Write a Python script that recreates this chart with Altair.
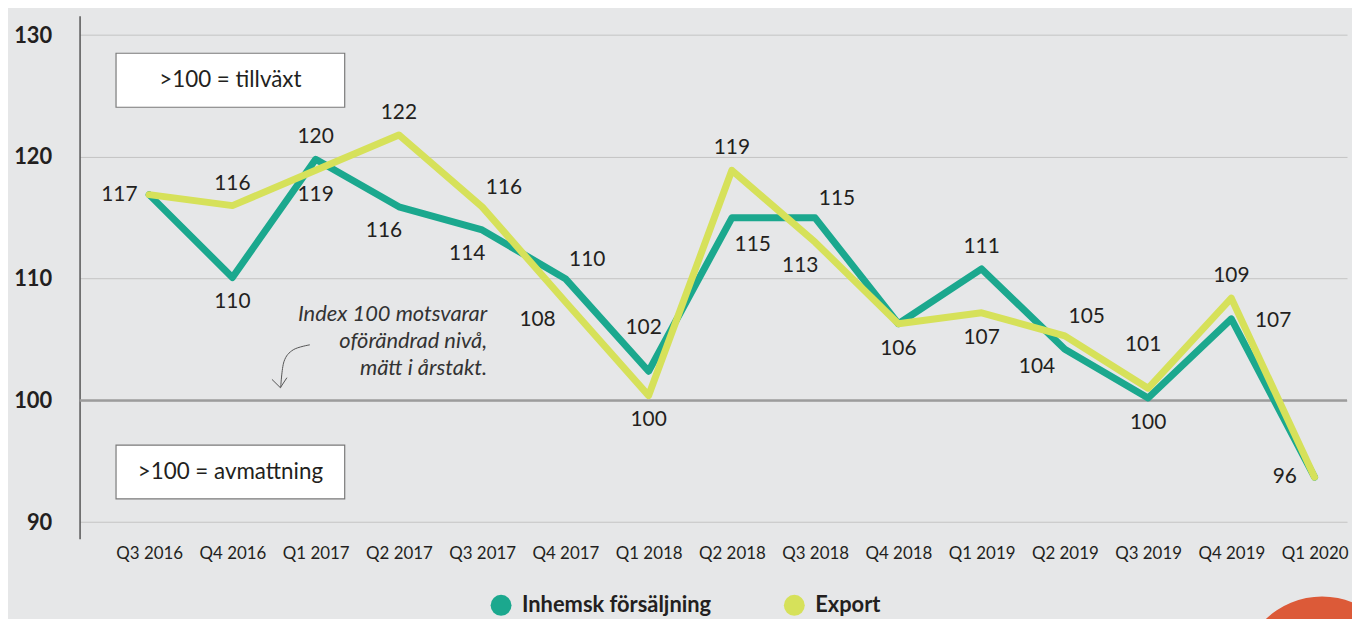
import json
import altair as alt
import pandas as pd

# ---------------- data ----------------
quarters = ["Q3 2016", "Q4 2016", "Q1 2017", "Q2 2017", "Q3 2017", "Q4 2017",
            "Q1 2018", "Q2 2018", "Q3 2018", "Q4 2018", "Q1 2019", "Q2 2019",
            "Q3 2019", "Q4 2019", "Q1 2020"]
inhemsk = [116.9, 110.1, 119.8, 115.9, 114.0, 110.0, 102.4, 115.0, 115.0,
           106.3, 110.8, 104.2, 100.2, 106.7, 93.7]
export = [116.9, 116.0, 118.9, 121.8, 115.9, 108.1, 100.4, 118.9, 113.0,
          106.3, 107.2, 105.3, 101.0, 108.4, 93.7]
inhemsk_labels = ["117", "110", "120", "116", "114", "110", "102", "115", "115",
                  "106", "111", "104", "100", "107", "96"]
inhemsk_place = ["left", "below", "above", "below-left", "below-left", "above-right",
                 "far-above", "below-right", "above-right", "below", "above",
                 "left-below", "below", "right", "left"]
export_labels = [None, "116", "119", "122", "116", "108", "100", "119", "113",
                 None, "107", "105", "101", "109", None]
export_place = [None, "above", "below", "above", "above-right", "left-below", "below",
                "above", "below-left", None, "below", "above-right", "far-above",
                "above", None]
series_names = ["Inhemsk försäljning", "Export"]
colors = ["#1ba88e", "#d6e15a"]
y_ticks = [90, 100, 110, 120, 130]

box_texts = [">100 = tillväxt", ">100 = avmattning"]
box_x = [-0.398, 2.349]
box_top = [128.51, 96.33]
box_bottom = [124.08, 91.92]
note_lines = ["Index 100 motsvarar", "oförändrad nivå,", "mätt i årstakt."]
note_y = [107.1, 104.9, 102.7]
note_x = 4.06
arrow_curve_x = [1.580, 1.619, 1.731, 1.931]
arrow_curve_y = [101.05, 103.18, 104.16, 104.57]
arrow_head_x = [1.475, 1.576, 1.655]
arrow_head_y = [101.73, 101.05, 101.87]

# ---------------- style ----------------
FONT = "Lato"
TXT = "#231f20"
offsets = {"above": (0, -22), "below": (0, 25), "left": (-30, 0), "right": (42, 2),
           "above-right": (22, -19), "below-left": (-15, 24), "left-below": (-28, 18),
           "below-right": (21, 27), "far-above": (-5, -43)}

xscale = alt.Scale(domain=[-0.836, 14.39], nice=False, zero=False)
yscale = alt.Scale(domain=[88.65, 131.59], nice=False, zero=False)

label_expr = json.dumps(quarters) + "[datum.value]"
xaxis = alt.Axis(values=list(range(len(quarters))), labelExpr=label_expr, title=None,
                 grid=False, domain=False, ticks=False, labelFont=FONT,
                 labelFontSize=17, labelColor=TXT, labelPadding=7)
yaxis = alt.Axis(values=y_ticks, title=None, grid=True, gridColor="#c4c4c4",
                 gridWidth=1, domainColor="#555555", domainWidth=1.5, ticks=False,
                 labelFont=FONT, labelFontWeight="bold", labelFontSize=22,
                 labelPadding=28, labelColor=TXT)


def X(f="x"):
    return alt.X(f"{f}:Q", scale=xscale, axis=xaxis)


def Y(f="y"):
    return alt.Y(f"{f}:Q", scale=yscale, axis=yaxis)


rows = []
for i, q in enumerate(quarters):
    rows.append(dict(x=i, q=q, serie=series_names[0], y=inhemsk[i],
                     lab=inhemsk_labels[i], place=inhemsk_place[i]))
    rows.append(dict(x=i, q=q, serie=series_names[1], y=export[i],
                     lab=export_labels[i], place=export_place[i]))
df = pd.DataFrame(rows)
base = alt.Chart(df)

color_scale = alt.Scale(domain=series_names, range=colors)

ref = alt.Chart(pd.DataFrame({"y": [100]})).mark_rule(
    color="#9c9c9c", strokeWidth=2.5).encode(y=Y())

legend_layer = base.mark_circle(size=1, opacity=1).encode(
    x=X(), y=Y(),
    color=alt.Color("serie:N", scale=color_scale, legend=alt.Legend(
        title=None, orient="none", legendX=413, legendY=582, direction="horizontal",
        symbolType="circle", symbolSize=441, symbolStrokeWidth=0, labelFont=FONT,
        labelFontSize=22, labelFontWeight="bold", labelColor=TXT, labelOffset=10,
        columnPadding=72, padding=0, labelLimit=400)))

lines = []
for s in series_names:
    lines.append(base.transform_filter(alt.datum.serie == s).mark_line(
        strokeWidth=7, strokeCap="round", strokeJoin="round").encode(
        x=X(), y=Y(), color=alt.Color("serie:N", scale=color_scale, legend=None)))

labels = []
for p, (dx, dy) in offsets.items():
    labels.append(base.transform_filter(alt.datum.place == p).mark_text(
        dx=dx, dy=dy, font=FONT, fontSize=21, color=TXT, align="center",
        baseline="middle").encode(x=X(), y=Y(), text="lab:N"))

boxes_df = pd.DataFrame({"t": box_texts, "x": [box_x[0]] * 2, "x2": [box_x[1]] * 2,
                         "y": box_top, "y2": box_bottom})
boxes = alt.Chart(boxes_df).mark_rect(fill="white", stroke="#7a7a7a",
                                      strokeWidth=1.2).encode(
    x=X(), x2="x2:Q", y=Y(), y2="y2:Q")
box_text = alt.Chart(boxes_df).transform_calculate(
    cx="(datum.x + datum.x2) / 2", cy="(datum.y + datum.y2) / 2").mark_text(
    font=FONT, fontSize=22.5, color=TXT, align="center", baseline="middle").encode(
    x=X("cx"), y=Y("cy"), text="t:N")

note = alt.Chart(pd.DataFrame({"t": note_lines, "y": note_y, "x": [note_x] * 3})).mark_text(
    font=FONT, fontSize=22, fontStyle="italic", color="#333333", align="right",
    baseline="middle").encode(x=X(), y=Y(), text="t:N")

arrow_curve = alt.Chart(pd.DataFrame({"x": arrow_curve_x, "y": arrow_curve_y})).mark_line(
    color="#555555", strokeWidth=1, interpolate="cardinal").encode(x=X(), y=Y())
arrow_head = alt.Chart(pd.DataFrame({"x": arrow_head_x, "y": arrow_head_y})).mark_line(
    color="#555555", strokeWidth=1).encode(x=X(), y=Y())

blob = alt.Chart(pd.DataFrame({"x": [14.09], "y": [77.2]})).mark_circle(
    size=26896, color="#dc5a38", opacity=1).encode(x=X(), y=Y())

chart = alt.layer(ref, boxes, box_text, note, arrow_curve, arrow_head,
                  legend_layer, *lines, *labels, blob).properties(
    width=1275, height=526,
    padding={"left": 72, "top": 6, "right": 5, "bottom": 79},
    autosize=alt.AutoSizeParams(type="none"),
).configure(background="#e6e7e8").configure_view(stroke=None)

chart.save("out.html", embed_options={"renderer": "svg", "actions": False})
